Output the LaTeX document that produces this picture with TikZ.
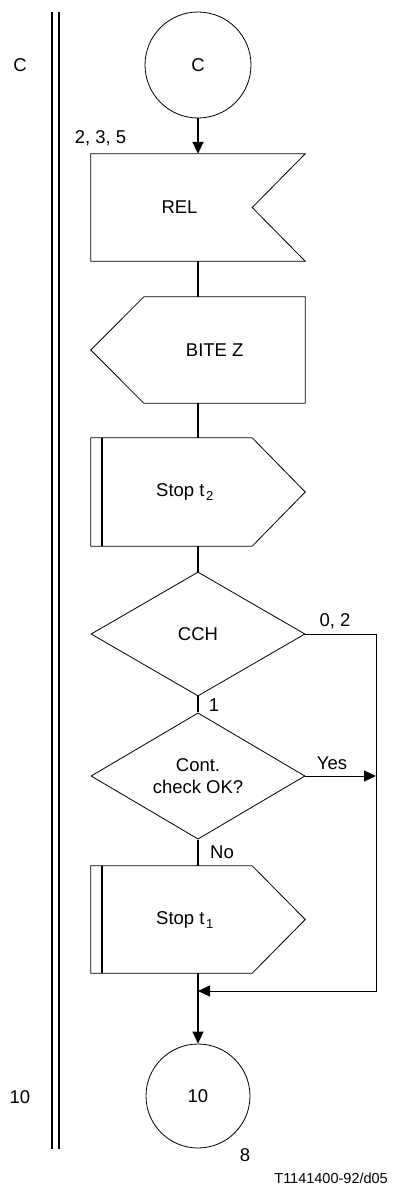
\documentclass[tikz,border=0pt]{standalone}
\usepackage{fontspec}
\setmainfont{Liberation Sans}
\usetikzlibrary{arrows.meta,shapes.geometric,calc}
\newcommand\subidx[1]{\hspace{1.5pt}\raisebox{-4pt}{\fontsize{13}{13}\selectfont #1}}
\begin{document}
\begin{tikzpicture}[x=1pt,y=-1pt,
  lbl/.style={font=\fontsize{18.5}{22.7}\selectfont, inner sep=0pt},
  smalllbl/.style={font=\fontsize{14.5}{17}\selectfont, inner sep=0pt},
  boxarea/.style={rectangle, draw=none, minimum width=214pt, minimum height=107pt, inner sep=0pt},
  outline/.style={draw, line width=0.8pt, line join=miter},
  conn/.style={line width=1.6pt},
  looppath/.style={line width=1pt},
  tip/.style={-{Triangle[length=12pt,width=11pt]}},
  decision/.style={diamond, draw, line width=0.8pt, minimum width=214pt, minimum height=124pt,
     inner sep=0pt, align=center, font=\fontsize{18.5}{22.7}\selectfont},
  conncircle/.style={circle, draw, line width=0.8pt, inner sep=0pt, font=\fontsize{18.5}{22.7}\selectfont}
]
\useasboundingbox (0,0) rectangle (398,1193);

% left double rule
\draw[line width=2pt] (52,12) -- (52,1149);
\draw[line width=1.1pt] (59,12) -- (59,1149);

% left labels
\node[lbl, anchor=base] (clbl) at (20,71.7) {C};
\node[lbl, anchor=base] (tenlbl) at (20,1103) {10};

% connector C
\node[conncircle, minimum size=106pt] (c) at (198,65) {C};

% REL input
\node[boxarea] (rel) at (198,207.5) {};
\draw[outline] (rel.north west) -- (rel.north east) -- ($(rel.east)+(-53,0)$)
   -- (rel.south east) -- (rel.south west) -- cycle;
\node[lbl, anchor=base] (reltxt) at (179.5,213.3) {REL};
\node[lbl, anchor=base] (rellbl) at (100.5,143.3) {2, 3, 5};

% BITE Z output
\node[boxarea, minimum height=106pt] (bite) at (198,350) {};
\draw[outline] (bite.west) -- ($(bite.north west)+(53,0)$) -- (bite.north east)
   -- (bite.south east) -- ($(bite.south west)+(53,0)$) -- cycle;
\node[lbl, anchor=base] (bitetxt) at (214.7,356.7) {BITE Z};

% Stop t2
\node[boxarea, minimum height=108pt] (stoptwo) at (198,492) {};
\draw[outline] (stoptwo.north west) -- ($(stoptwo.north east)+(-53,0)$) -- (stoptwo.east)
   -- ($(stoptwo.south east)+(-53,0)$) -- (stoptwo.south west) -- cycle;
\draw[line width=1.7pt] ($(stoptwo.north west)+(11,0)$) -- ($(stoptwo.south west)+(11,0)$);
\node[lbl, anchor=base west] (stoptwotxt) at (156,496.7) {Stop t\subidx{2}};

% CCH decision
\node[decision] (cch) at (198,634) {CCH};

% Cont. check decision
\node[decision] (cont) at (198,776) {Cont.\\check OK?};

% Stop t1
\node[boxarea] (stopone) at (198,919.5) {};
\draw[outline] (stopone.north west) -- ($(stopone.north east)+(-53,0)$) -- (stopone.east)
   -- ($(stopone.south east)+(-53,0)$) -- (stopone.south west) -- cycle;
\draw[line width=1.7pt] ($(stopone.north west)+(11,0)$) -- ($(stopone.south west)+(11,0)$);
\node[lbl, anchor=base west] (stoponetxt) at (156,924.3) {Stop t\subidx{1}};

% connector 10
\node[conncircle, minimum size=104pt] (ten) at (198,1096) {10};

% routing coordinates
\coordinate (rail) at (376,991);
\coordinate (join) at (198,991);

% main flow
\draw[conn, tip] (c) -- (rel.north);
\draw[conn] (rel.south) -- (bite.north);
\draw[conn] (bite.south) -- (stoptwo.north);
\draw[conn] (stoptwo.south) -- (cch.north);
\draw[conn] (cch.south) -- (cont.north);
\draw[conn] (cont.south) -- (stopone.north);
\draw[conn, tip] (stopone.south) -- (ten.north);

% right loop
\draw[looppath, tip] (cch.east) -| (rail) -- (join);
\draw[looppath, tip] (cont.east) -- (cont.east -| rail);

% branch labels
\node[lbl, anchor=base] (lblzero) at (335,626) {0, 2};
\node[lbl, anchor=base] (lblone) at (214,711.7) {1};
\node[lbl, anchor=base] (lblyes) at (332,769) {Yes};
\node[lbl, anchor=base] (lblno) at (222,858) {No};

% page labels
\node[lbl, anchor=base] (lbleight) at (245,1161) {8};
\node[smalllbl, anchor=base east] (lblref) at (388,1183.3) {T1141400-92/d05};
\end{tikzpicture}
\end{document}
